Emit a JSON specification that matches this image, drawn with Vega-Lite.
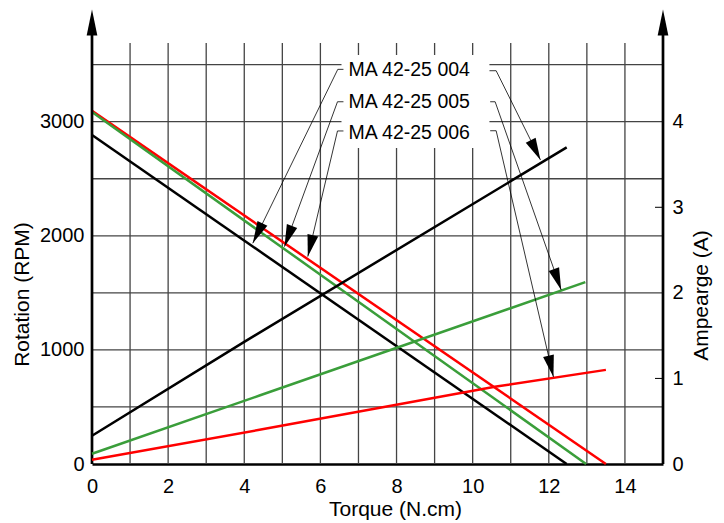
{
  "$schema": "https://vega.github.io/schema/vega-lite/v6.json",
  "width": 571,
  "height": 421,
  "autosize": {"type": "none"},
  "padding": {"left": 92, "top": 43, "right": 61, "bottom": 59},
  "config": {
    "font": "Liberation Sans",
    "view": {"stroke": null},
    "axis": {"labelFont": "Liberation Sans", "titleFont": "Liberation Sans", "labelColor": "#000", "titleColor": "#000", "titleFontWeight": "normal", "labelFontSize": 20, "titleFontSize": 21, "grid": false, "ticks": false, "tickSize": 0}
  },
  "datasets": {
    "speed": [
      {"motor": "004", "t": 0, "rpm": 2883}, {"motor": "004", "t": 12.47, "rpm": 0},
      {"motor": "005", "t": 0, "rpm": 3095}, {"motor": "005", "t": 13.5, "rpm": 0},
      {"motor": "006", "t": 0, "rpm": 3085}, {"motor": "006", "t": 12.98, "rpm": 0}
    ],
    "current": [
      {"motor": "004", "t": 0, "amp": 0.33}, {"motor": "004", "t": 4.01, "amp": 1.43}, {"motor": "004", "t": 12.47, "amp": 3.70},
      {"motor": "006", "t": 0, "amp": 0.12}, {"motor": "006", "t": 4.4, "amp": 0.80}, {"motor": "006", "t": 12.96, "amp": 2.125},
      {"motor": "005", "t": 0, "amp": 0.05}, {"motor": "005", "t": 4.4, "amp": 0.40}, {"motor": "005", "t": 10.62, "amp": 0.905}, {"motor": "005", "t": 13.5, "amp": 1.10}
    ],
    "vgrid": [{"t": 1}, {"t": 2}, {"t": 3}, {"t": 4}, {"t": 5}, {"t": 6}, {"t": 7}, {"t": 8}, {"t": 9}, {"t": 10}, {"t": 11}, {"t": 12}, {"t": 13}, {"t": 14}],
    "hgrid": [{"rpm": 500}, {"rpm": 1000}, {"rpm": 1500}, {"rpm": 2000}, {"rpm": 2500}, {"rpm": 3000}, {"rpm": 3500}],
    "axes": [{"t": 0}, {"t": 15}],
    "ampticks": [{"amp": 1}, {"amp": 3}],
    "labels": [
      {"name": "MA 42-25 004", "t": 6.738, "rpm": 3453},
      {"name": "MA 42-25 005", "t": 6.738, "rpm": 3175},
      {"name": "MA 42-25 006", "t": 6.738, "rpm": 2898}
    ],
    "leaders": [
      {"id": "004L", "i": 0, "t": 6.606, "rpm": 3459}, {"id": "004L", "i": 1, "t": 6.457, "rpm": 3459}, {"id": "004L", "i": 2, "t": 4.224, "rpm": 1935},
      {"id": "005L", "i": 0, "t": 6.606, "rpm": 3175}, {"id": "005L", "i": 1, "t": 6.449, "rpm": 3175}, {"id": "005L", "i": 2, "t": 5.056, "rpm": 1905},
      {"id": "006L", "i": 0, "t": 6.606, "rpm": 2919}, {"id": "006L", "i": 1, "t": 6.449, "rpm": 2919}, {"id": "006L", "i": 2, "t": 5.669, "rpm": 1818},
      {"id": "004R", "i": 0, "t": 10.441, "rpm": 3447}, {"id": "004R", "i": 1, "t": 10.617, "rpm": 3447}, {"id": "004R", "i": 2, "t": 11.781, "rpm": 2665},
      {"id": "005R", "i": 0, "t": 10.46, "rpm": 3175}, {"id": "005R", "i": 1, "t": 10.59, "rpm": 3175}, {"id": "005R", "i": 2, "t": 12.325, "rpm": 1526},
      {"id": "006R", "i": 0, "t": 10.46, "rpm": 2921}, {"id": "006R", "i": 1, "t": 10.617, "rpm": 2921}, {"id": "006R", "i": 2, "t": 12.122, "rpm": 762}
    ],
    "tips": [
      {"id": "004L", "t": 4.224, "rpm": 1935}, {"id": "005L", "t": 5.056, "rpm": 1905}, {"id": "006L", "t": 5.669, "rpm": 1818},
      {"id": "004R", "t": 11.781, "rpm": 2665}, {"id": "005R", "t": 12.325, "rpm": 1526}, {"id": "006R", "t": 12.122, "rpm": 762}
    ]
  },
  "layer": [
    {
      "layer": [
        {
          "data": {"name": "vgrid"},
          "mark": {"type": "rule", "color": "#444", "strokeWidth": 1.3},
          "encoding": {
            "x": {"field": "t", "type": "quantitative", "title": "Torque (N.cm)", "scale": {"domain": [0, 15], "nice": false, "zero": false},
              "axis": {"values": [0, 2, 4, 6, 8, 10, 12, 14], "format": "d", "domain": true, "domainColor": "#000", "domainWidth": 2.5, "ticks": false, "labelPadding": 12, "labelFlush": false, "titleX": 303, "titleY": 51, "titleBaseline": "alphabetic", "titleAlign": "center", "titleFontSize": 21}},
            "y": {"datum": 0, "type": "quantitative", "scale": {"domain": [0, 3690], "nice": false, "zero": false},
              "axis": {"values": [0, 1000, 2000, 3000], "format": "d", "domain": false, "ticks": false, "labelPadding": 8, "title": "Rotation (RPM)", "titleAngle": -90, "titleX": -64, "titleY": 251, "titleAlign": "center", "titleBaseline": "alphabetic"}},
            "y2": {"datum": 3690}
          }
        },
        {
          "data": {"name": "hgrid"},
          "mark": {"type": "rule", "color": "#444", "strokeWidth": 1.3},
          "encoding": {
            "y": {"field": "rpm", "type": "quantitative", "title": "Rotation (RPM)"},
            "x": {"datum": 0, "type": "quantitative"},
            "x2": {"datum": 15}
          }
        },
        {
          "data": {"values": [{}]},
          "mark": {"type": "rect", "fill": "#ffffff"},
          "encoding": {
            "x": {"datum": 6.554, "type": "quantitative"},
            "x2": {"datum": 10.44},
            "y": {"datum": 2770, "type": "quantitative"},
            "y2": {"datum": 3584}
          }
        },
        {
          "data": {"name": "speed"},
          "mark": {"type": "line", "strokeWidth": 2.5},
          "encoding": {
            "x": {"field": "t", "type": "quantitative", "title": "Torque (N.cm)"},
            "y": {"field": "rpm", "type": "quantitative", "title": "Rotation (RPM)"},
            "color": {"field": "motor", "type": "nominal", "scale": {"domain": ["004", "005", "006"], "range": ["#000000", "#ff0000", "#3a9e3a"]}, "legend": null}
          }
        },
        {
          "data": {"name": "axes"},
          "mark": {"type": "rule", "color": "#000", "strokeWidth": 2.7},
          "encoding": {
            "x": {"field": "t", "type": "quantitative", "title": "Torque (N.cm)"},
            "y": {"datum": 0, "type": "quantitative"},
            "y2": {"datum": 3900}
          }
        },
        {
          "data": {"name": "axes"},
          "mark": {"type": "point", "shape": "M0,0L0.41,2L-0.41,2Z", "filled": true, "size": 676, "color": "#000", "opacity": 1, "strokeWidth": 0},
          "encoding": {
            "x": {"field": "t", "type": "quantitative", "title": "Torque (N.cm)"},
            "y": {"datum": 3984, "type": "quantitative"}
          }
        }
      ]
    },
    {
      "layer": [
        {
          "data": {"name": "current"},
          "mark": {"type": "line", "strokeWidth": 2.5},
          "encoding": {
            "x": {"field": "t", "type": "quantitative", "title": "Torque (N.cm)"},
            "y": {"field": "amp", "type": "quantitative", "scale": {"domain": [0, 4.92], "nice": false, "zero": false},
              "axis": {"orient": "right", "values": [0, 1, 2, 3, 4], "format": "d", "domain": false, "ticks": false, "labelPadding": 9, "title": "Ampearge (A)", "titleAngle": -90, "titleX": 44, "titleY": 252, "titleAlign": "center", "titleBaseline": "alphabetic"}},
            "color": {"field": "motor", "type": "nominal", "scale": {"domain": ["004", "005", "006"], "range": ["#000000", "#ff0000", "#3a9e3a"]}, "legend": null}
          }
        },
        {
          "data": {"name": "ampticks"},
          "mark": {"type": "rule", "color": "#000", "strokeWidth": 1},
          "encoding": {
            "y": {"field": "amp", "type": "quantitative", "title": "Ampearge (A)"},
            "x": {"datum": 14.79, "type": "quantitative"},
            "x2": {"datum": 15}
          }
        }
      ]
    },
    {
      "layer": [
        {
          "data": {"name": "leaders"},
          "mark": {"type": "line", "color": "#000", "strokeWidth": 0.8},
          "encoding": {
            "x": {"field": "t", "type": "quantitative", "title": "Torque (N.cm)"},
            "y": {"field": "rpm", "type": "quantitative", "scale": {"domain": [0, 3690], "nice": false, "zero": false}, "axis": null},
            "detail": {"field": "id"},
            "order": {"field": "i"}
          }
        },
        {
          "data": {"name": "tips"},
          "transform": [{"filter": "datum.id == '004L'"}],
          "mark": {"type": "point", "shape": "M0,0L0.5,2L-0.5,2Z", "filled": true, "size": 484, "color": "#000", "opacity": 1, "strokeWidth": 0, "angle": 206.0},
          "encoding": {"x": {"field": "t", "type": "quantitative", "title": "Torque (N.cm)"}, "y": {"field": "rpm", "type": "quantitative"}}
        },
        {
          "data": {"name": "tips"},
          "transform": [{"filter": "datum.id == '005L'"}],
          "mark": {"type": "point", "shape": "M0,0L0.5,2L-0.5,2Z", "filled": true, "size": 484, "color": "#000", "opacity": 1, "strokeWidth": 0, "angle": 200.1},
          "encoding": {"x": {"field": "t", "type": "quantitative", "title": "Torque (N.cm)"}, "y": {"field": "rpm", "type": "quantitative"}}
        },
        {
          "data": {"name": "tips"},
          "transform": [{"filter": "datum.id == '006L'"}],
          "mark": {"type": "point", "shape": "M0,0L0.5,2L-0.5,2Z", "filled": true, "size": 484, "color": "#000", "opacity": 1, "strokeWidth": 0, "angle": 193.3},
          "encoding": {"x": {"field": "t", "type": "quantitative", "title": "Torque (N.cm)"}, "y": {"field": "rpm", "type": "quantitative"}}
        },
        {
          "data": {"name": "tips"},
          "transform": [{"filter": "datum.id == '004R'"}],
          "mark": {"type": "point", "shape": "M0,0L0.5,2L-0.5,2Z", "filled": true, "size": 484, "color": "#000", "opacity": 1, "strokeWidth": 0, "angle": 153.6},
          "encoding": {"x": {"field": "t", "type": "quantitative", "title": "Torque (N.cm)"}, "y": {"field": "rpm", "type": "quantitative"}}
        },
        {
          "data": {"name": "tips"},
          "transform": [{"filter": "datum.id == '005R'"}],
          "mark": {"type": "point", "shape": "M0,0L0.5,2L-0.5,2Z", "filled": true, "size": 484, "color": "#000", "opacity": 1, "strokeWidth": 0, "angle": 160.7},
          "encoding": {"x": {"field": "t", "type": "quantitative", "title": "Torque (N.cm)"}, "y": {"field": "rpm", "type": "quantitative"}}
        },
        {
          "data": {"name": "tips"},
          "transform": [{"filter": "datum.id == '006R'"}],
          "mark": {"type": "point", "shape": "M0,0L0.5,2L-0.5,2Z", "filled": true, "size": 484, "color": "#000", "opacity": 1, "strokeWidth": 0, "angle": 166.9},
          "encoding": {"x": {"field": "t", "type": "quantitative", "title": "Torque (N.cm)"}, "y": {"field": "rpm", "type": "quantitative"}}
        },
        {
          "data": {"name": "labels"},
          "mark": {"type": "text", "align": "left", "baseline": "middle", "fontSize": 19.5, "color": "#000", "font": "Liberation Sans"},
          "encoding": {
            "x": {"field": "t", "type": "quantitative", "title": "Torque (N.cm)"},
            "y": {"field": "rpm", "type": "quantitative"},
            "text": {"field": "name"}
          }
        }
      ]
    }
  ],
  "resolve": {"scale": {"y": "independent"}}
}
